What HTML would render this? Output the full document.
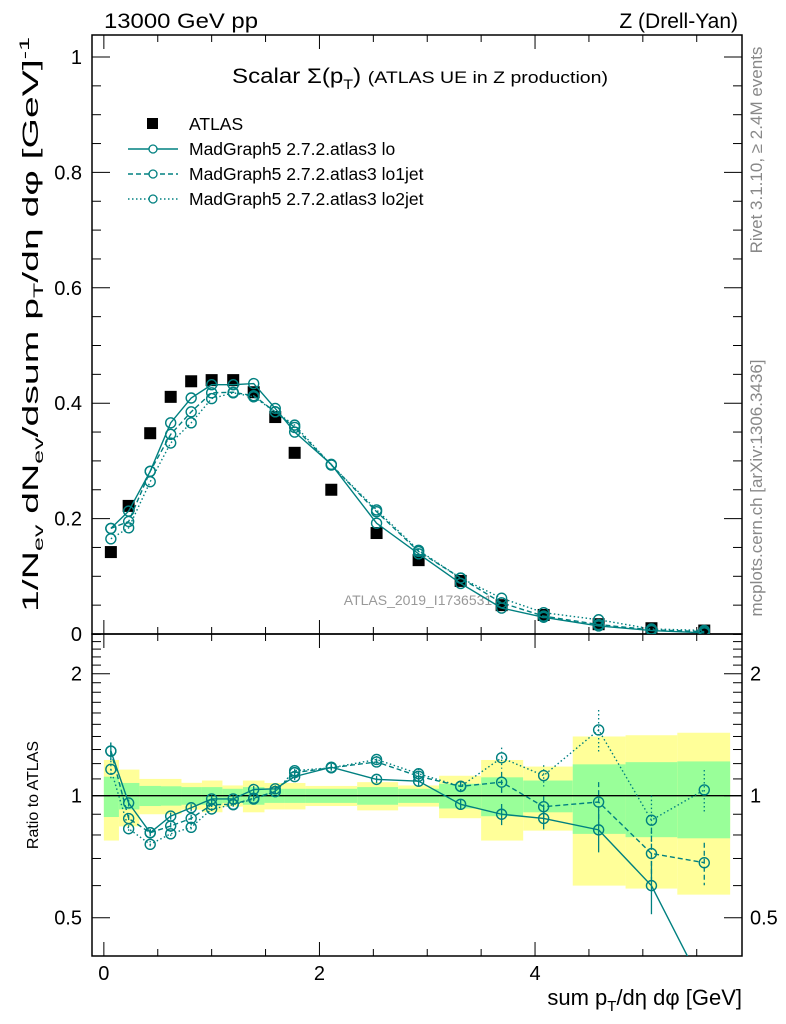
<!DOCTYPE html>
<html><head><meta charset="utf-8"><style>
html,body{margin:0;padding:0;background:#fff;}
svg{display:block;font-family:"Liberation Sans",sans-serif;}
</style></head><body>
<svg id="chart" width="786" height="1024" viewBox="0 0 786 1024" xmlns="http://www.w3.org/2000/svg">
<text x="104" y="28" font-size="21" textLength="154" lengthAdjust="spacingAndGlyphs">13000 GeV pp</text>
<text x="738" y="28" font-size="21" text-anchor="end">Z (Drell-Yan)</text>
<text x="232" y="83" font-size="21" textLength="376" lengthAdjust="spacingAndGlyphs">Scalar Σ(p<tspan font-size="14" dy="6">T</tspan><tspan dy="-6">) </tspan><tspan font-size="17">(ATLAS UE in Z production)</tspan></text>
<text transform="translate(762,150) rotate(-90)" font-size="17" fill="#888" text-anchor="middle">Rivet 3.1.10, ≥ 2.4M events</text>
<text transform="translate(762,488) rotate(-90)" font-size="17" fill="#888" text-anchor="middle">mcplots.cern.ch [arXiv:1306.3436]</text>
<text x="418" y="605" font-size="14" fill="#999" text-anchor="middle">ATLAS_2019_I1736531</text>
<text transform="translate(38,612) rotate(-90)" font-size="22" textLength="575" lengthAdjust="spacingAndGlyphs">1/N<tspan font-size="14" dy="5">ev</tspan><tspan dy="-5"> dN</tspan><tspan font-size="14" dy="5">ev</tspan><tspan dy="-5">/dsum p</tspan><tspan font-size="14" dy="5">T</tspan><tspan dy="-5">/dη dφ  [GeV]</tspan><tspan font-size="14" dy="-9">-1</tspan></text>
<text transform="translate(38,795) rotate(-90)" font-size="16" text-anchor="middle">Ratio to ATLAS</text>
<text x="742" y="1005" font-size="22" text-anchor="end">sum p<tspan font-size="15" dy="6">T</tspan><tspan dy="-6">/dη dφ [GeV]</tspan></text>
<g id="bands"></g>
<g id="axes"></g>
<g id="series"></g>
<g id="legend"></g>
</svg>
<script>
const edges=[0,0.14,0.33,0.53,0.72,0.91,1.1,1.29,1.49,1.68,1.87,2.35,2.73,3.11,3.5,3.89,4.35,4.84,5.32,5.81];
const centers=[0.065,0.23,0.43,0.62,0.81,1.0,1.2,1.39,1.59,1.77,2.11,2.53,2.92,3.31,3.69,4.08,4.59,5.08,5.57];
const atlas=[0.142,0.222,0.348,0.411,0.438,0.44,0.44,0.419,0.376,0.314,0.25,0.175,0.128,0.092,0.05,0.033,0.017,0.01,0.006];
const lo=[0.183,0.213,0.282,0.366,0.409,0.432,0.432,0.434,0.391,0.350,0.294,0.192,0.139,0.0876,0.045,0.029,0.014,0.006,0.002];
const lo1jet=[0.183,0.195,0.282,0.346,0.385,0.418,0.419,0.413,0.385,0.358,0.293,0.212,0.143,0.097,0.054,0.031,0.0164,0.0072,0.0041];
const lo2jet=[0.165,0.184,0.264,0.331,0.366,0.408,0.418,0.411,0.385,0.362,0.293,0.215,0.145,0.097,0.062,0.037,0.0247,0.0087,0.0062];
const errTot=[0.225,0.16,0.10,0.10,0.076,0.09,0.06,0.09,0.075,0.075,0.057,0.08,0.06,0.12,0.225,0.18,0.40,0.41,0.43];
const errStat=[0.114,0.075,0.057,0.055,0.05,0.05,0.04,0.05,0.04,0.04,0.04,0.05,0.04,0.07,0.11,0.09,0.195,0.21,0.215];
const mcErr=[0.05,0.02,0.02,0.02,0.02,0.02,0.02,0.02,0.02,0.02,0.02,0.02,0.03,0.03,0.06,0.06,0.12,0.15,0.12];
const xTicks=[0,2,4];
const yTicks=[0,0.2,0.4,0.6,0.8,1];
const rTicks=[0.5,1,2];

const NS='http://www.w3.org/2000/svg';
const L=92,R=742,T=35,MB=634,RB=956;
const xmin=-0.11,xmax=5.92;
const X=v=>L+(v-xmin)/(xmax-xmin)*(R-L);
const Y=v=>634-v*577;
const RY=r=>795.7-122*Math.log2(r);
function mk(tag,attrs,parent){const e=document.createElementNS(NS,tag);for(const k in attrs)e.setAttribute(k,attrs[k]);parent.appendChild(e);return e;}
const bands=document.getElementById('bands'),axes=document.getElementById('axes'),series=document.getElementById('series'),legend=document.getElementById('legend');

for(let i=0;i<centers.length;i++){
  const x0=X(edges[i]),x1=Math.min(X(edges[i+1]),R);
  const y=mk('rect',{x:x0,y:RY(1+errTot[i]),width:x1-x0,height:RY(1-errTot[i])-RY(1+errTot[i]),fill:'#ffff99'},bands);
  
  
  const g=mk('rect',{x:x0,y:RY(1+errStat[i]),width:x1-x0,height:RY(1-errStat[i])-RY(1+errStat[i]),fill:'#99ff99'},bands);
  
  
}

for(const [t,b,nm] of [[T,MB,'main-frame'],[MB,RB,'ratio-frame']]){
  const f=mk('rect',{x:L,y:t,width:R-L,height:b-t,fill:'none',stroke:'#000','stroke-width':1.5},axes);
  
  
}
const one=mk('line',{x1:L,x2:R,y1:RY(1),y2:RY(1),stroke:'#000','stroke-width':1.3},axes);



for(let v=0;v<=5.9;v+=0.5){
  const major=Math.abs(v-Math.round(v/2)*2)<1e-6;
  const len=major?14:7;
  for(const [yb,yt] of [[MB,T],[RB,MB]]){
    const a=mk('line',{x1:X(v),x2:X(v),y1:yb,y2:yb-len,stroke:'#000'},axes);
    
    
    const b=mk('line',{x1:X(v),x2:X(v),y1:yt,y2:yt+len,stroke:'#000'},axes);
    
    
  }
}
xTicks.forEach(v=>{
  const t=mk('text',{x:X(v),y:980,'font-size':20,'text-anchor':'middle'},axes);t.textContent=v;
  
  
});
for(let k=0;k<=20;k++){
  const v=k*0.05,y=Y(v);if(y<T)break;
  const len=(k%4===0)?18:9;
  const a=mk('line',{x1:L,x2:L+len,y1:y,y2:y,stroke:'#000'},axes);
  
  
  const b=mk('line',{x1:R,x2:R-len,y1:y,y2:y,stroke:'#000'},axes);
  
  
}
yTicks.forEach(v=>{
  const t=mk('text',{x:L-10,y:Y(v)+7,'font-size':20,'text-anchor':'end'},axes);t.textContent=(v===0||v===1)?String(v):v.toFixed(1);
  
  
});
for(let k=4;k<=25;k++){
  const r=k/10,y=RY(r);if(y<MB||y>RB)continue;
  const major=(k===5||k===10||k===20);
  const len=major?18:9;
  const a=mk('line',{x1:L,x2:L+len,y1:y,y2:y,stroke:'#000'},axes);
  
  
  const b=mk('line',{x1:R,x2:R-len,y1:y,y2:y,stroke:'#000'},axes);
  
  
}
rTicks.forEach(r=>{
  const t=mk('text',{x:L-10,y:RY(r)+7,'font-size':20,'text-anchor':'end'},axes);t.textContent=r;
  
  
  const t2=mk('text',{x:R+8,y:RY(r)+7,'font-size':20},axes);t2.textContent=r;
  
  
});

const defs=mk('defs',{},series);
const c1=mk('clipPath',{id:'cm'},defs);mk('rect',{x:L,y:T,width:R-L,height:MB-T},c1);
const c2=mk('clipPath',{id:'cr'},defs);mk('rect',{x:L,y:MB,width:R-L,height:RB-MB},c2);
const gm=mk('g',{'clip-path':'url(#cm)'},series);
const gr=mk('g',{'clip-path':'url(#cr)'},series);

atlas.forEach((v,i)=>{
  const s=mk('rect',{x:X(centers[i])-6,y:Y(v)-6,width:12,height:12,fill:'#000'},gm);
  
  
});
const col='#008080';
const mcs=[[lo,'none','lo'],[lo1jet,'5,3','lo1jet'],[lo2jet,'1.5,2.5','lo2jet']];
mcs.forEach(([arr,dash,nm])=>{
  const pts=arr.map((v,i)=>X(centers[i])+','+Y(v)).join(' ');
  const pl=mk('polyline',{points:pts,fill:'none',stroke:col,'stroke-width':1.4,'stroke-dasharray':dash},gm);
  
  
  const rp=arr.map((v,i)=>X(centers[i])+','+RY(v/atlas[i])).join(' ');
  const rl=mk('polyline',{points:rp,fill:'none',stroke:col,'stroke-width':1.4,'stroke-dasharray':dash},gr);
  
  
  arr.forEach((v,i)=>{
    const r=v/atlas[i],e=mcErr[i];
    const eb=mk('line',{x1:X(centers[i]),x2:X(centers[i]),y1:RY(r*(1+e)),y2:RY(r*(1-e)),stroke:col,'stroke-width':1.3,'stroke-dasharray':dash},gr);
    
    
    const c=mk('circle',{cx:X(centers[i]),cy:Y(v),r:5,fill:'none',stroke:col,'stroke-width':1.4},gm);
    
    
    const c2=mk('circle',{cx:X(centers[i]),cy:RY(r),r:5,fill:'none',stroke:col,'stroke-width':1.4},gr);
    
    
  });
});

const lg=[['ATLAS',null,124],['MadGraph5 2.7.2.atlas3 lo','none',149],['MadGraph5 2.7.2.atlas3 lo1jet','5,3',174],['MadGraph5 2.7.2.atlas3 lo2jet','1.5,2.5',199]];
lg.forEach(([txt,dash,y])=>{
  if(dash===null){
    const s=mk('rect',{x:147,y:y-6,width:11,height:11,fill:'#000'},legend);
    
    
  }else{
    const l=mk('line',{x1:128,x2:178,y1:y,y2:y,stroke:col,'stroke-width':1.4,'stroke-dasharray':dash},legend);
    
    
    const c=mk('circle',{cx:153,cy:y,r:4,fill:'#fff',stroke:col,'stroke-width':1.3},legend);
    
    
  }
  const t=mk('text',{x:189,y:y+6,'font-size':17.5},legend);t.textContent=txt;
  
  
});
</script>
</body></html>
